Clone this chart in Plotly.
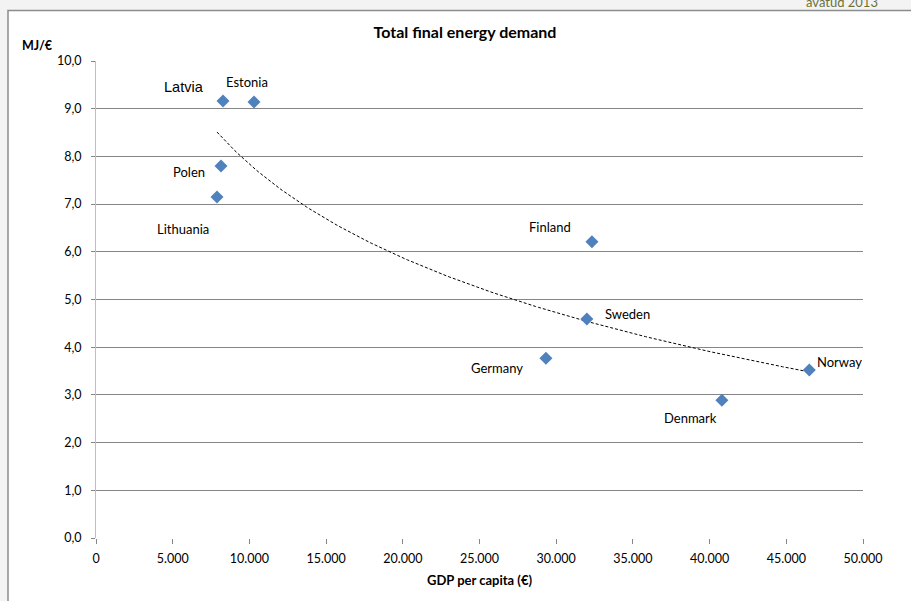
import numpy as np
import plotly.graph_objects as go

# ---- data ----
countries = ["Latvia", "Estonia", "Polen", "Lithuania", "Finland", "Sweden", "Germany", "Denmark", "Norway"]
gdp_per_capita = [8280, 10300, 8150, 7890, 32330, 32000, 29330, 40800, 46500]
energy_mj_per_eur = [9.16, 9.14, 7.80, 7.15, 6.21, 4.59, 3.77, 2.89, 3.52]
x_ticks = [0, 5000, 10000, 15000, 20000, 25000, 30000, 35000, 40000, 45000, 50000]
y_ticks = [0, 1, 2, 3, 4, 5, 6, 7, 8, 9, 10]

# label offsets (pixels) relative to points: style only
label_dx = [-39, -7, -32, -34, -42, 41, -49, -31, 30]
label_dy = [-14, -20, 6, 32, -15, -5, 10, 18, -8]
label_font = ["Liberation Sans"] + ["Lato"] * 8
label_size = [14.5] + [13] * 8

# logarithmic trend line fitted from the data
xs = np.array(gdp_per_capita, dtype=float)
ys = np.array(energy_mj_per_eur, dtype=float)
b, a = np.polyfit(np.log(xs), ys, 1)
trend_x = np.linspace(xs.min(), xs.max(), 200)
trend_y = a + b * np.log(trend_x)

fig = go.Figure()
fig.add_trace(go.Scatter(
    x=trend_x, y=trend_y, mode="lines",
    line=dict(color="black", width=1, dash="3px,2px"),
    hoverinfo="skip", showlegend=False,
))
fig.add_trace(go.Scatter(
    x=gdp_per_capita, y=energy_mj_per_eur, mode="markers",
    marker=dict(symbol="diamond", size=10, color="#4f81bd"),
    text=countries, showlegend=False,
))

for c, x, y, dx, dy, f, s in zip(countries, gdp_per_capita, energy_mj_per_eur,
                                  label_dx, label_dy, label_font, label_size):
    fig.add_annotation(x=x, y=y, text=c, showarrow=False, xshift=dx, yshift=-dy,
                       font=dict(family=f, size=s, color="black"))

# white chart frame on grey background
fig.add_shape(type="rect", xref="paper", yref="paper",
              x0=(8 - 96) / 767, x1=1.2, y0=-0.3, y1=(538 - 10.5) / 477,
              fillcolor="white", line=dict(color="#8c8c8c", width=1.5), layer="below")

fig.add_annotation(xref="paper", yref="paper", x=(38 - 96) / 767, y=(538 - 45) / 477,
                   text="<b>MJ/€</b>", showarrow=False, xanchor="center", yanchor="middle",
                   font=dict(family="Lato", size=12.5, color="black"))
fig.add_annotation(xref="paper", yref="paper", x=(880 - 96) / 767, y=(538 - 12) / 477,
                   text="avatud 2013", showarrow=False, xanchor="right", yanchor="bottom",
                   font=dict(family="Lato", size=13, color="#6b7040"))

fig.update_layout(
    width=911, height=601,
    margin=dict(l=96, r=48, t=61, b=63),
    paper_bgcolor="#f3f3f3",
    plot_bgcolor="white",
    separators=",.",
    title=dict(text="<b>Total final energy demand</b>", x=465 / 911, xanchor="center",
               y=1 - 32 / 601, yanchor="middle",
               font=dict(family="Lato", size=16, color="black")),
    xaxis=dict(
        range=[0, 50000], tickvals=x_ticks, tickformat=",.0f",
        showgrid=False, zeroline=False,
        showline=False, ticks="outside", ticklen=5, tickcolor="#868686",
        ticklabelstandoff=4,
        tickfont=dict(family="Lato", size=12.5, color="black"),
        title=dict(text="<b>GDP per capita (€)</b>", font=dict(family="Lato", size=13, color="black"),
                   standoff=10),
    ),
    yaxis=dict(
        range=[0, 10], tickvals=y_ticks, tickformat=".1f",
        showgrid=True, gridcolor="#868686", gridwidth=1,
        zeroline=False, showline=True, linecolor="#bfbfbf", linewidth=1,
        ticks="outside", ticklen=4, tickcolor="#868686",
        ticklabelstandoff=7,
        tickfont=dict(family="Lato", size=12.5, color="black"),
    ),
)

fig.write_html("out.html", config={"displayModeBar": False},
               post_script="document.body.style.margin='0';")
